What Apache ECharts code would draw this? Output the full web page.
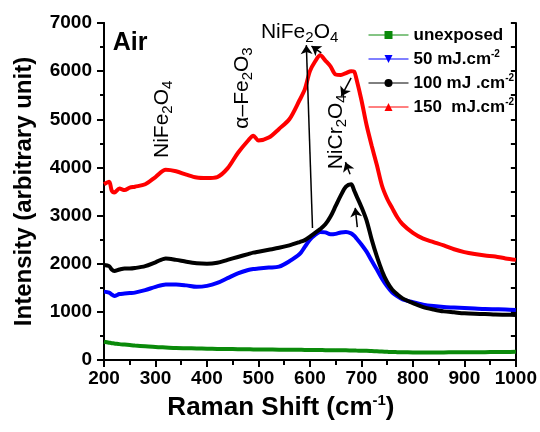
<!DOCTYPE html>
<html>
<head>
<meta charset="utf-8">
<script src="https://cdn.jsdelivr.net/npm/echarts@6/dist/echarts.min.js"></script>
<style>
  html, body { margin: 0; padding: 0; background: #fff; }
  #chart { width: 540px; height: 432px; }
</style>
</head>
<body>
<div id="chart"></div>
<script>
// --- data ---
const shift = [200, 210, 215, 220, 230, 240, 250, 260, 280, 300, 320, 340, 360, 380, 400, 420, 440, 460, 480,
  490, 500, 520, 540, 560, 580, 590, 600, 610, 620, 630, 640, 650, 660, 670, 680, 686, 690,
  700, 710, 720, 730, 740, 750, 760, 770, 780, 800, 820, 840, 860, 880, 900, 920, 940, 960, 980, 1000];

const unexposed = [380, 360, 350, 345, 330, 320, 310, 300, 285, 270, 260, 250, 245, 240, 235, 230, 228, 225, 222,
  220, 220, 218, 215, 215, 212, 210, 210, 208, 207, 205, 205, 203, 200, 200, 198, 197, 195,
  192, 190, 185, 180, 175, 170, 165, 163, 160, 158, 157, 157, 158, 160, 160, 162, 163, 165, 167, 170];

const mj50 = [1420, 1400, 1360, 1330, 1370, 1380, 1390, 1400, 1450, 1520, 1570, 1570, 1550, 1520, 1540, 1600, 1700, 1800, 1870,
  1890, 1900, 1920, 1940, 2050, 2200, 2350, 2500, 2600, 2660, 2650, 2610, 2620, 2650, 2660, 2630, 2580, 2530,
  2400, 2250, 2060, 1880, 1690, 1530, 1400, 1320, 1260, 1200, 1150, 1120, 1100, 1090, 1080, 1070, 1060, 1055, 1050, 1040];

const mj100 = [1975, 1950, 1880, 1850, 1880, 1900, 1900, 1910, 1950, 2030, 2110, 2080, 2040, 2010, 2000, 2020, 2080, 2140, 2200,
  2230, 2250, 2290, 2330, 2380, 2450, 2490, 2560, 2640, 2720, 2820, 2980, 3200, 3420, 3600, 3650, 3520, 3420,
  3180, 2900, 2500, 2150, 1850, 1620, 1460, 1360, 1280, 1180, 1100, 1050, 1010, 990, 970, 960, 955, 945, 940, 935];

const mj150 = [3650, 3700, 3520, 3480, 3560, 3530, 3580, 3600, 3650, 3800, 3950, 3920, 3850, 3790, 3780, 3800, 3980, 4300, 4560,
  4660, 4560, 4620, 4800, 5000, 5400, 5620, 6000, 6200, 6330, 6220, 6100, 5930, 5920, 5960, 6000, 5990, 5850,
  5400, 4880, 4450, 4050, 3620, 3350, 3150, 2960, 2820, 2640, 2520, 2450, 2380, 2300, 2240, 2200, 2170, 2150, 2110, 2080];

const seriesNames = ['unexposed', '50 mJ.cm-2', '100 mJ .cm-2', '150  mJ.cm-2'];

// arrows [from, to] in data units
const arrows = [
  [[605, 2740], [593, 6540]],
  [[622, 6380], [603, 6520]],
  [[680, 5860], [661, 5480]],
  [[678, 3860], [669, 4110]],
  [[692, 2760], [688, 3160]]
];

// text labels: [x, y, text, rotation]
const notes = [
  [217, 6585, 'Air', 0],
  [314, 5000, 'NiFe{sub|2}O{sub|4}', 90],
  [469, 5650, 'α–Fe{sub|2}O{sub|3}', 90],
  [580, 6800, 'NiFe{sub|2}O{sub|4}', 0],
  [651, 4740, 'NiCr{sub|2}O{sub|4}', 90]
];

const FONT = 'Liberation Sans, Arial, sans-serif';
const pair = ys => shift.map((x, i) => [x, ys[i]]);

const chart = echarts.init(document.getElementById('chart'));

const axisLine = { show: true, lineStyle: { color: '#000', width: 2 } };

function line(name, ys, color, symbol, extra) {
  return Object.assign({
    name: name, type: 'line', data: pair(ys),
    showSymbol: false, symbol: symbol, symbolSize: 7,
    smooth: 0.3,
    lineStyle: { color: color, width: 4 },
    itemStyle: { color: color },
    silent: true
  }, extra || {});
}

function frameAxis(pos, min, max, interval, inside, len, labelOpt) {
  return {
    type: 'value', position: pos, min: min, max: max, interval: interval,
    axisLine: axisLine,
    axisTick: { show: true, inside: inside, length: len, lineStyle: { width: 2, color: '#000' } },
    minorTick: { show: false },
    axisLabel: labelOpt || { show: false },
    splitLine: { show: false }
  };
}

const label19 = { show: true, fontFamily: FONT, fontWeight: 'bold', fontSize: 19, color: '#000' };

const xMain = frameAxis('bottom', 200, 1000, 100, false, 7,
  Object.assign({ margin: 9, formatter: v => String(v) }, label19));
xMain.name = 'Raman Shift (cm{sup|-1})';
xMain.nameLocation = 'middle';
xMain.nameGap = 33;
xMain.nameTextStyle = {
  fontFamily: FONT, fontWeight: 'bold', fontSize: 26, color: '#000', padding: [0, 58, 0, 0],
  rich: { sup: { fontFamily: FONT, fontWeight: 'bold', fontSize: 15, padding: [0, 0, 15, 0], color: '#000' } }
};

const yMain = frameAxis('left', 0, 7000, 1000, false, 7,
  Object.assign({ margin: 12, formatter: v => String(v) }, label19));
yMain.name = 'Intensity (arbitrary unit)';
yMain.nameLocation = 'middle';
yMain.nameGap = 68;
yMain.nameTextStyle = { fontFamily: FONT, fontWeight: 'bold', fontSize: 24, color: '#000' };

chart.setOption({
  animation: false,
  textStyle: { fontFamily: FONT },
  grid: { left: 104, right: 23, top: 23, bottom: 72 },
  legend: {
    orient: 'vertical', left: 368, top: 25, padding: 0,
    itemWidth: 40, itemHeight: 10, itemGap: 4,
    lineStyle: { width: 1 },
    data: seriesNames,
    formatter: n => n.replace(/-2$/, '{sup|-2}'),
    textStyle: {
      fontFamily: FONT, fontWeight: 'bold', fontSize: 17, color: '#000', lineHeight: 20,
      rich: { sup: { fontFamily: FONT, fontWeight: 'bold', fontSize: 10, padding: [0, 0, 9, 0], color: '#000' } }
    }
  },
  xAxis: [
    xMain,
    frameAxis('bottom', 200, 1000, 50, false, 4),   // minor ticks
    frameAxis('top', 200, 1000, 50, true, 5)
  ],
  yAxis: [
    yMain,
    frameAxis('left', 0, 7000, 500, false, 4),      // minor ticks
    frameAxis('right', 0, 7000, 500, true, 5)
  ],
  series: [
    line(seriesNames[0], unexposed, '#0a8a0a', 'rect'),
    line(seriesNames[1], mj50, '#0000ff', 'triangle', { symbolRotate: 180 }),
    line(seriesNames[2], mj100, '#000000', 'circle', {
      markLine: {
        silent: true, symbol: ['none', 'arrow'], symbolSize: 9,
        label: { show: false },
        lineStyle: { color: '#000', width: 1.5, type: 'solid' },
        data: arrows.map(a => [{ coord: a[0] }, { coord: a[1] }])
      }
    }),
    line(seriesNames[3], mj150, '#ff0000', 'triangle'),
    {
      name: 'notes', type: 'scatter', silent: true, z: 10,
      symbolSize: 1, itemStyle: { color: '#fff', opacity: 1 },
      data: notes.map(n => ({
        value: [n[0], n[1]],
        label: {
          show: true, position: 'inside', formatter: n[2], rotate: n[3],
          align: n[2] === 'Air' ? 'left' : 'center', verticalAlign: 'middle',
          fontFamily: FONT, color: '#000', opacity: 1,
          textBorderWidth: 0, textBorderColor: 'transparent', textShadowBlur: 0,
          fontSize: n[2] === 'Air' ? 25 : 21,
          fontWeight: n[2] === 'Air' ? 'bold' : 'normal',
          rich: { sub: { fontFamily: FONT, fontSize: 15, padding: [11, 0, 0, 0], color: '#000',
            textBorderWidth: 0, textBorderColor: 'transparent' } }
        }
      }))
    }
  ]
});
</script>
</body>
</html>
